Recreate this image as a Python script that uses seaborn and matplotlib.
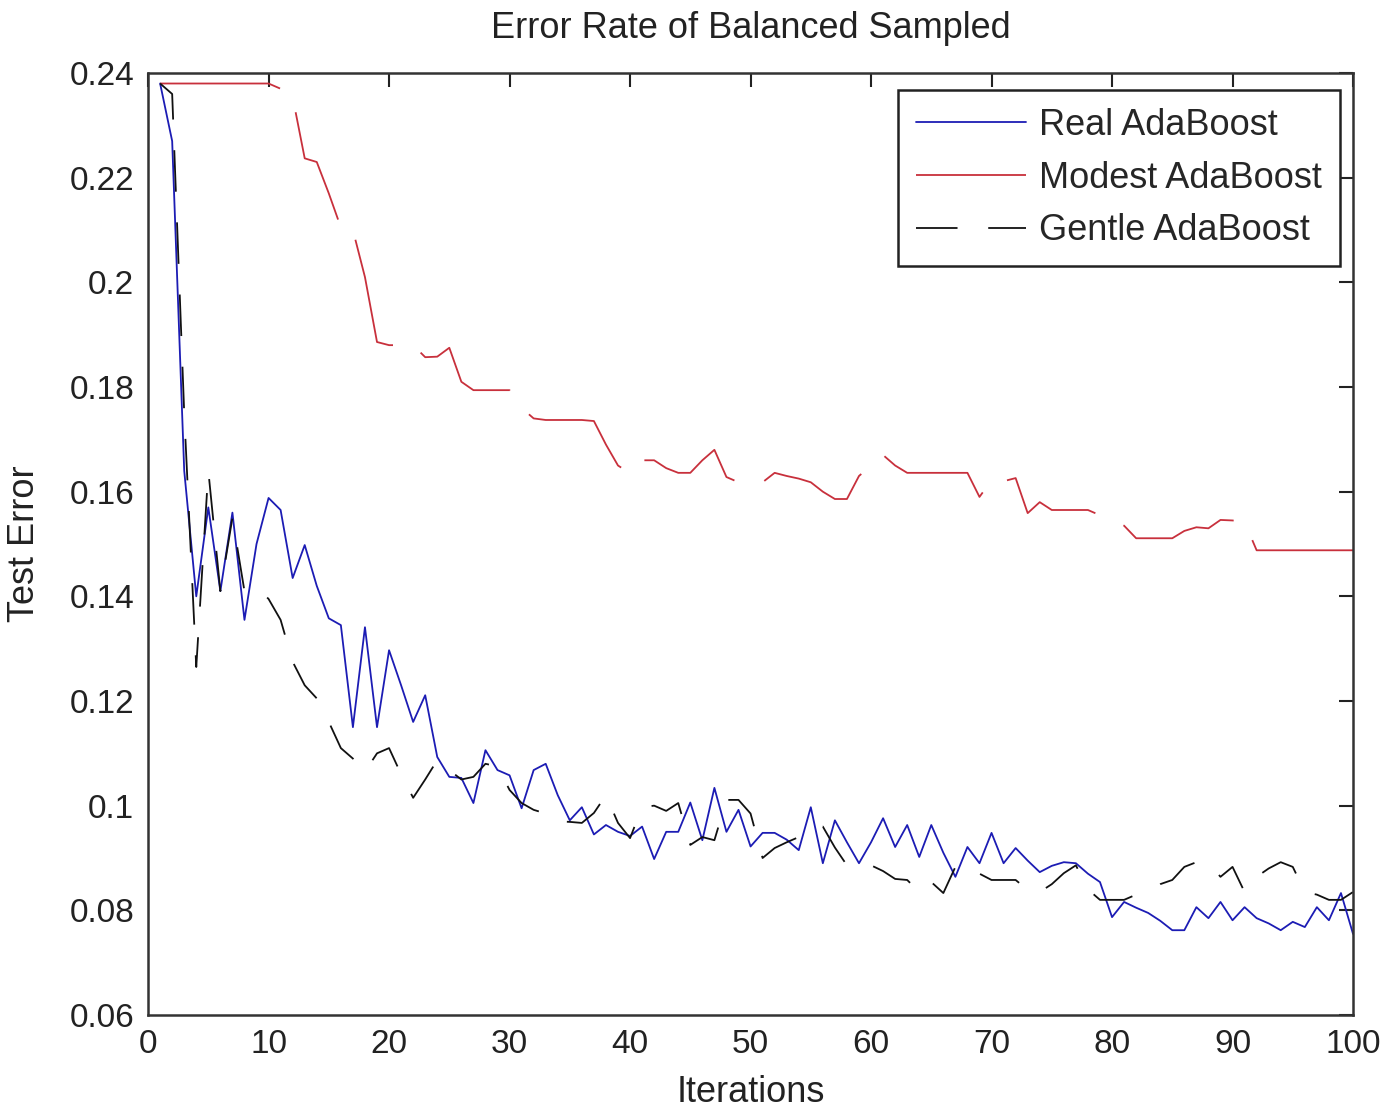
import numpy as np
import pandas as pd
import matplotlib
matplotlib.use('Agg')
import matplotlib.pyplot as plt
import seaborn as sns

# podaci ocitani sa slike
iterations = list(range(1, 101))

real_ada = [0.238, 0.227, 0.164, 0.140, 0.157, 0.141, 0.156, 0.1355, 0.150, 0.1588,
            0.1565, 0.1435, 0.1498, 0.1420, 0.1358, 0.1345, 0.1150, 0.1341, 0.1150, 0.1297,
            0.1230, 0.1160, 0.1211, 0.1093, 0.1055, 0.1053, 0.1005, 0.1106, 0.1068, 0.1058,
            0.0995, 0.1068, 0.1080, 0.1020, 0.0972, 0.0997, 0.0945, 0.0963, 0.0950, 0.0942,
            0.0960, 0.0898, 0.0950, 0.0950, 0.1006, 0.0934, 0.1034, 0.0950, 0.0992, 0.0922,
            0.0948, 0.0948, 0.0935, 0.0915, 0.0997, 0.0890, 0.0972, 0.0930, 0.0890, 0.0930,
            0.0976, 0.0921, 0.0963, 0.0902, 0.0963, 0.0910, 0.0864, 0.0921, 0.0890, 0.0948,
            0.0890, 0.0919, 0.0895, 0.0873, 0.0885, 0.0892, 0.0890, 0.0870, 0.0854, 0.0787,
            0.0816, 0.0805, 0.0795, 0.0780, 0.0762, 0.0762, 0.0806, 0.0785, 0.0816, 0.0781,
            0.0806, 0.0785, 0.0775, 0.0762, 0.0778, 0.0768, 0.0806, 0.0781, 0.0833, 0.0755]

modest_ada = [0.238, 0.238, 0.238, 0.238, 0.238, 0.238, 0.238, 0.238, 0.238, 0.238,
              0.237, 0.2354, 0.2237, 0.223, 0.217, 0.2105, 0.210, 0.201, 0.1886, 0.188,
              0.188, 0.188, 0.1857, 0.1858, 0.1875, 0.181, 0.1794, 0.1794, 0.1794, 0.1794,
              0.176, 0.174, 0.1737, 0.1737, 0.1737, 0.1737, 0.1735, 0.169, 0.165, 0.1635,
              0.166, 0.166, 0.1645, 0.1636, 0.1636, 0.166, 0.168, 0.1628, 0.1618, 0.1618,
              0.1618, 0.1636, 0.1630, 0.1625, 0.1618, 0.160, 0.1586, 0.1586, 0.163, 0.165,
              0.167, 0.165, 0.1636, 0.1636, 0.1636, 0.1636, 0.1636, 0.1636, 0.159, 0.1622,
              0.162, 0.1626, 0.1559, 0.158, 0.1565, 0.1565, 0.1565, 0.1565, 0.1555, 0.1548,
              0.1535, 0.1511, 0.1511, 0.1511, 0.1511, 0.1525, 0.1532, 0.153, 0.1546, 0.1545,
              0.1542, 0.1488, 0.1488, 0.1488, 0.1488, 0.1488, 0.1488, 0.1488, 0.1488, 0.1488]

gentle_ada = [0.238, 0.236, 0.175, 0.1265, 0.164, 0.141, 0.155, 0.141, 0.1418, 0.1395,
              0.1355, 0.1275, 0.123, 0.1205, 0.116, 0.111, 0.109, 0.1065, 0.110, 0.111,
              0.106, 0.1015, 0.105, 0.1087, 0.1068, 0.105, 0.1055, 0.108, 0.1075, 0.103,
              0.1005, 0.0992, 0.0985, 0.097, 0.0969, 0.0967, 0.0986, 0.102, 0.0967, 0.0938,
              0.0997, 0.100, 0.099, 0.1005, 0.0925, 0.094, 0.0934, 0.1011, 0.1011, 0.0985,
              0.090, 0.0919, 0.093, 0.094, 0.096, 0.096, 0.092, 0.0886, 0.0886, 0.0886,
              0.0875, 0.086, 0.0858, 0.0835, 0.0854, 0.0833, 0.0883, 0.089, 0.087, 0.0858,
              0.0858, 0.0858, 0.0839, 0.0835, 0.085, 0.0871, 0.0886, 0.084, 0.082, 0.082,
              0.082, 0.083, 0.0835, 0.085, 0.0858, 0.0883, 0.0892, 0.0892, 0.0864, 0.0883,
              0.0835, 0.0864, 0.088, 0.0892, 0.0883, 0.0835, 0.083, 0.082, 0.082, 0.0835]

names = ['Real AdaBoost', 'Modest AdaBoost', 'Gentle AdaBoost']
x_ticks = [0, 10, 20, 30, 40, 50, 60, 70, 80, 90, 100]
y_ticks = [0.06, 0.08, 0.1, 0.12, 0.14, 0.16, 0.18, 0.2, 0.22, 0.24]
y_tick_labels = ['0.06', '0.08', '0.1', '0.12', '0.14', '0.16', '0.18', '0.2', '0.22', '0.24']

df = pd.DataFrame({
    'Iterations': iterations * 3,
    'Test Error': real_ada + modest_ada + gentle_ada,
    'method': [names[0]] * 100 + [names[1]] * 100 + [names[2]] * 100,
})

sns.set_style('white')
plt.rcParams['font.family'] = ['Liberation Sans', 'DejaVu Sans']

fig = plt.figure(figsize=(13.89, 11.10), dpi=100)
ax = fig.add_axes([0.1066, 0.0856, 0.8675, 0.8486])

boje = {names[0]: '#1c1cb4', names[1]: '#c8303c', names[2]: '#111111'}
crte = {names[0]: '', names[1]: (67, 17), names[2]: (23, 17)}

sns.lineplot(data=df, x='Iterations', y='Test Error', hue='method', style='method',
             palette=boje, dashes=crte, hue_order=names, style_order=names,
             linewidth=1.3, ax=ax)

ax.set_xlim(0, 100)
ax.set_ylim(0.06, 0.24)
ax.set_xticks(x_ticks)
ax.set_yticks(y_ticks)
ax.set_yticklabels(y_tick_labels)
ax.tick_params(direction='in', length=10, width=1.5, top=True, right=True,
               labelsize=24, colors='#222222', pad=10)
for s in ax.spines.values():
    s.set_color('#333333')
    s.set_linewidth(1.8)

ax.set_title('Error Rate of Balanced Sampled', fontsize=26, pad=25, color='#222222')
ax.set_xlabel('Iterations', fontsize=26, color='#222222', labelpad=11)
ax.set_ylabel('Test Error', fontsize=26, color='#222222')
ax.yaxis.set_label_coords(-0.088, 0.5)

leg = ax.legend(loc='upper right', bbox_to_anchor=(0.989, 0.982), borderaxespad=0,
                fontsize=26, frameon=True, fancybox=False, framealpha=1,
                edgecolor='#222222', handlelength=3.05, handletextpad=0.35,
                labelspacing=0.49, borderpad=0.5)
leg.get_frame().set_linewidth(1.8)

fig.savefig('out.png', dpi=100)
